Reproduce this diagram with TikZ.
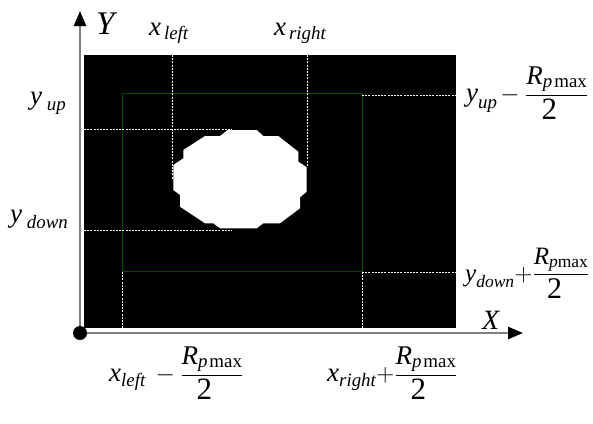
\documentclass[tikz,border=0pt]{standalone}
\usepackage{amsmath}
\usepackage{fontspec}
\setmainfont{Liberation Serif}
\usetikzlibrary{arrows.meta}
\newcommand{\myi}[1]{\textit{#1}}
\newcommand{\Rfrac}{\dfrac{\myi{R}_{\myi{p}\mkern2mu\text{max}}}{\scalebox{1.15}{\text{2}}}}
\newcommand{\Rfract}{\dfrac{\myi{R}_{\myi{p}\text{max}}}{\scalebox{1.2}{\text{2}}}}
\begin{document}
\begin{tikzpicture}[x=1pt,y=-1pt,
  lbl/.style={inner sep=0pt, font=\fontsize{27}{30}\selectfont},
  wdash/.style={white, line width=0.7pt, dash pattern=on 2pt off 1.2pt},
  axis/.style={gray, line width=2.5pt, -{Triangle[length=15pt,width=12pt,color=black]}},
  grn/.style={draw=green!30!black, line width=0.7pt}]
\useasboundingbox (0,0) rectangle (593,423);
\fill[black] (84,55) rectangle (456,328);
\draw[grn] (122,93) rectangle (362,271);
\fill[white] (227.7,130) -- (256.7,130) -- (263.3,136) -- (278.3,136) -- (298.3,151.7) -- (298.3,161.7) -- (306.7,167.3) -- (306.7,191.7) -- (300,197.3) -- (300,208.3) -- (280,223.3) -- (263.3,223.3) -- (256.7,228.3) -- (220,228.3) -- (213.3,223.3) -- (205,223.3) -- (180,206.7) -- (180,195) -- (173.3,190) -- (173.3,165) -- (183.3,158.3) -- (183.3,150) -- (205,136) -- (220,136) -- cycle;
% dashed guides
\draw[wdash] (172.3,55) -- (172.3,179);
\draw[wdash] (307.5,55) -- (307.5,166);
\draw[wdash] (84,129) -- (232,129);
\draw[wdash] (84,230) -- (232,230);
\draw[wdash] (362,95) -- (456,95);
\draw[wdash] (362,272) -- (456,272);
\draw[wdash] (122,272) -- (122,328);
\draw[wdash] (362,272) -- (362,328);
% axes
\coordinate (O) at (80,333);
\coordinate (Yend) at (80,11);
\coordinate (Xend) at (523,333);
\draw[axis] (O) -- (Yend);
\draw[axis] (O) -- (Xend);
\fill[black] (O) circle (7);
% labels
\node[lbl, font=\fontsize{33}{36}\selectfont, anchor=base west] (Y) at (96,34) {$\myi{Y}$};
\node[lbl, font=\fontsize{28}{30}\selectfont, anchor=base west] (X) at (482,329) {$\myi{X}$};
\node[lbl, anchor=base west] (xl) at (149,35) {$\myi{x}_{\,\myi{left}}$};
\node[lbl, anchor=base west] (xr) at (274,35) {$\myi{x}_{\,\myi{right}}$};
\node[lbl, anchor=base west] (yu) at (30,104) {$\myi{y}_{\;\myi{up}}$};
\node[lbl, anchor=base west] (yd) at (10,222) {$\myi{y}_{\;\myi{down}}$};
\node[lbl, anchor=west] (yuR) at (466,93) {$\myi{y}_{\myi{up}}\mkern2mu{-}\mkern4mu\Rfrac$};
\node[lbl, anchor=west, font=\fontsize{25}{28}\selectfont] (ydR) at (465,273) {$\myi{y}_{\myi{down}}{+}\Rfract$};
\node[lbl, anchor=west] (xlR) at (109,373) {$\myi{x}_{\myi{left}}\,-\Rfrac$};
\node[lbl, anchor=west] (xrR) at (327,373) {$\myi{x}_{\myi{right}}{+}\Rfrac$};
\end{tikzpicture}
\end{document}
